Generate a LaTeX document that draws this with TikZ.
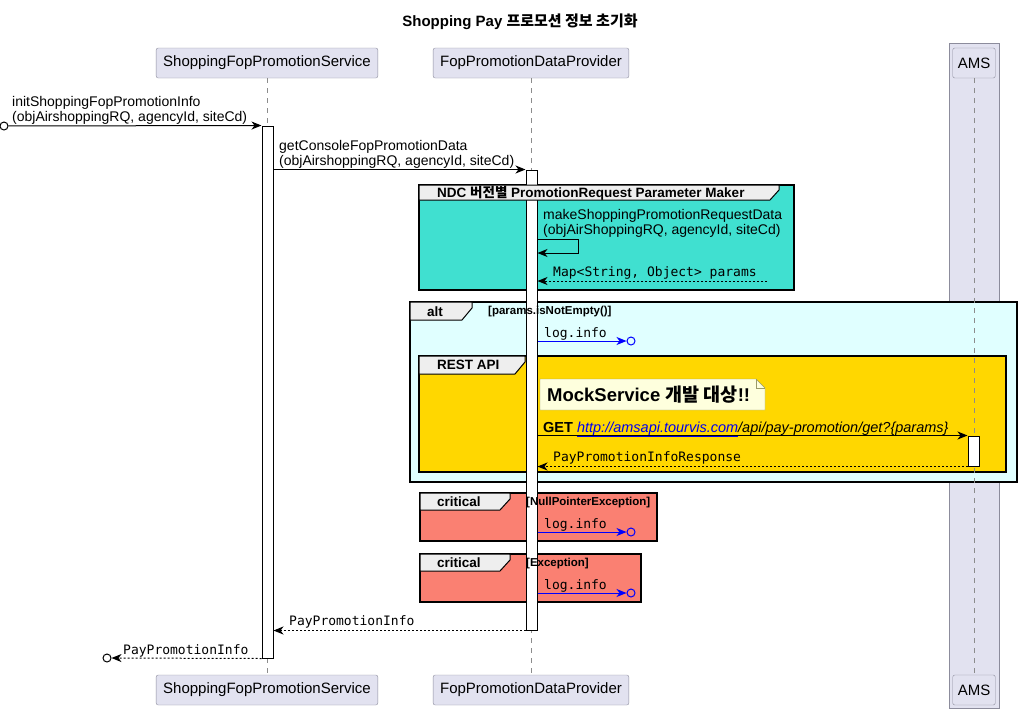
\documentclass[tikz,border=0pt]{standalone}
\usepackage{fontspec}
\setmainfont{Liberation Sans}
\setmonofont{DejaVu Sans Mono}
\newfontfamily\krfont{Noto Sans CJK KR}
\newcommand{\kr}[1]{{\krfont #1}}
\usetikzlibrary{arrows.meta}

\definecolor{partbg}{HTML}{E2E2F0}
\definecolor{partline}{HTML}{8C8C9C}
\definecolor{lifegray}{HTML}{8C8C8C}
\definecolor{ndcbg}{HTML}{40E0D0}
\definecolor{altbg}{HTML}{E0FFFF}
\definecolor{restbg}{HTML}{FFD700}
\definecolor{critbg}{HTML}{FA8072}
\definecolor{tabbg}{HTML}{EEEEEE}
\definecolor{notebg}{HTML}{FEFFDD}
\definecolor{notegray}{HTML}{9A9A6A}
\definecolor{linkblue}{HTML}{0000EE}

\begin{document}
\begin{tikzpicture}[x=1pt,y=-1pt,>={Stealth[length=10pt,width=8pt,inset=3pt]},
  part/.style={draw=partline,fill=partbg,rounded corners=2pt,minimum height=30pt,inner xsep=7pt,font=\fontsize{15}{17}\selectfont},
  life/.style={draw=lifegray,dash pattern=on 5pt off 5pt,line width=0.8pt},
  actbar/.style={draw,fill=white,line width=1pt,minimum width=11pt,inner sep=0pt},
  frame/.style={draw,line width=1.5pt},
  tab/.style={draw,fill=tabbg,line width=1pt},
  tablbl/.style={anchor=west,inner sep=0pt,font=\bfseries\fontsize{13.5}{15}\selectfont},
  cond/.style={anchor=west,inner sep=0pt,font=\bfseries\fontsize{11.5}{13}\selectfont},
  msg/.style={->,line width=1pt},
  ret/.style={msg,dash pattern=on 2pt off 2pt},
  logmsg/.style={msg,blue},
  lbl/.style={anchor=base west,inner sep=0pt,align=left,font=\fontsize{14}{15}\selectfont},
  mono/.style={lbl,font=\ttfamily\fontsize{13}{15}\selectfont},
  endpt/.style={circle,draw,line width=1pt,minimum size=8pt,inner sep=0pt}]
\useasboundingbox (0,0) rectangle (1021,716);
\begin{scope}
 % titolo
  \node (title) at (520,22) [font=\bfseries\fontsize{15}{17}\selectfont] {Shopping Pay \kr{프로모션 정보 초기화}};
 % box AMS
  \draw[draw=partline,fill=partbg] (949,43) rectangle (999,708);
 % partecipanti
  \node (pS)  at (267,63)  [part] {ShoppingFopPromotionService};
  \node (pP)  at (531,63)  [part] {FopPromotionDataProvider};
  \node (pA)  at (974,63)  [part,inner xsep=5pt] {AMS};
  \node (pSb) at (267,690) [part] {ShoppingFopPromotionService};
  \node (pPb) at (531,690) [part] {FopPromotionDataProvider};
  \node (pAb) at (974,690) [part,inner xsep=5pt] {AMS};
 % riquadri
  \draw[frame,fill=ndcbg] (419,185) rectangle (794,290);
  \draw[frame,fill=altbg] (410,302) rectangle (1017,482);
  \draw[frame,fill=restbg] (419,356) rectangle (1006,472);
  \draw[frame,fill=critbg] (420,493) rectangle (657,541);
  \draw[frame,fill=critbg] (420,554) rectangle (641,602);
 % linee di vita
  \draw[life] (pS) -- (pSb);
  \draw[life] (pP) -- (pPb);
  \draw[life] (pA) -- (pAb);
 % attivazioni
  \node (aS) at (267.5,392) [actbar,minimum height=532pt] {};
  \node (aP) at (531.5,400) [actbar,minimum height=460pt] {};
  \node (aA) at (973.5,451) [actbar,minimum height=30pt] {};
 % etichette dei riquadri
  \draw[tab] (419,185) -- (779,185) -- (779,190) -- (770,200) -- (419,200) -- cycle;
  \node (gNdc) at (437,193) [tablbl] {NDC \kr{버전별} PromotionRequest Parameter Maker};
  \draw[tab] (410,302) -- (472,302) -- (472,308) -- (462,320) -- (410,320) -- cycle;
  \node (gAlt) at (427,312) [tablbl] {alt};
  \node (cAlt) at (488,312) [cond] {[params.isNotEmpty()]};
  \draw[tab] (419,356) -- (525,356) -- (525,362) -- (515,374) -- (419,374) -- cycle;
  \node (gRest) at (437,365) [tablbl] {REST API};
  \draw[tab] (420,493) -- (510,493) -- (510,499) -- (500,510) -- (420,510) -- cycle;
  \node (gCr1) at (437,502) [tablbl] {critical};
  \node (cCr1) at (526,503) [cond] {[NullPointerException]};
  \draw[tab] (420,554) -- (510,554) -- (510,560) -- (500,571) -- (420,571) -- cycle;
  \node (gCr2) at (437,563) [tablbl] {critical};
  \node (cCr2) at (526,564) [cond] {[Exception]};
 % nota
  \draw[draw=notegray,fill=notebg] (540,379) -- (756,379) -- (765,388) -- (765,410) -- (540,410) -- cycle;
  \draw[draw=notegray] (756,379) -- (756,388) -- (765,388);
  \node (note) at (547,395) [anchor=west,inner sep=0pt,font=\bfseries\fontsize{18.5}{20}\selectfont] {MockService \kr{개발 대상}!!};
 % messaggi
  \node (st) at (4,126) [endpt] {};
  \path[msg] (st) edge (aS.north west);
  \node (l1) at (12,121) [lbl] {initShoppingFopPromotionInfo\\(objAirshoppingRQ, agencyId, siteCd)};
  \path[msg] (aS.east |- aP.north) edge (aP.north west);
  \node (l2) at (279,165) [lbl] {getConsoleFopPromotionData\\(objAirshoppingRQ, agencyId, siteCd)};
  \coordinate (s1) at (578,239);
  \coordinate (s2) at (578,253);
  \draw[msg] (aP.east |- s1) -- (s1) -- (s2) -- (aP.east |- s2);
  \node (l3) at (543,234) [lbl] {makeShoppingPromotionRequestData\\(objAirShoppingRQ, agencyId, siteCd)};
  \coordinate (r1) at (767,281);
  \path[ret] (r1) edge (aP.east |- r1);
  \node (l4) at (553,276) [mono] {Map<String, Object> params};
  \node (e1) at (631,341) [endpt,draw=blue] {};
  \path[logmsg] (aP.east |- e1) edge (e1);
  \node (l5) at (544,337) [mono] {log.info};
  \path[msg] (aP.east |- aA.north) edge (aA.north west);
  \node (l6) at (543,432) [lbl,font=\fontsize{14.5}{16}\selectfont] {\textbf{GET} \textcolor{linkblue}{\underline{\textit{http://amsapi.tourvis.com}}}\textit{/api/pay-promotion/get?\{params\}}};
  \path[ret] (aA.south west) edge (aP.east |- aA.south);
  \node (l7) at (553,461) [mono] {PayPromotionInfoResponse};
  \node (e2) at (631,532) [endpt,draw=blue] {};
  \path[logmsg] (aP.east |- e2) edge (e2);
  \node (l8) at (544,528) [mono] {log.info};
  \node (e3) at (631,593) [endpt,draw=blue] {};
  \path[logmsg] (aP.east |- e3) edge (e3);
  \node (l9) at (544,589) [mono] {log.info};
  \path[ret] (aP.south west) edge (aS.east |- aP.south);
  \node (l10) at (289,625) [mono] {PayPromotionInfo};
  \node (en) at (107,658) [endpt] {};
  \path[ret] (aS.south west) edge (en);
  \node (l11) at (123,654) [mono] {PayPromotionInfo};
\end{scope}
\end{tikzpicture}
\end{document}
